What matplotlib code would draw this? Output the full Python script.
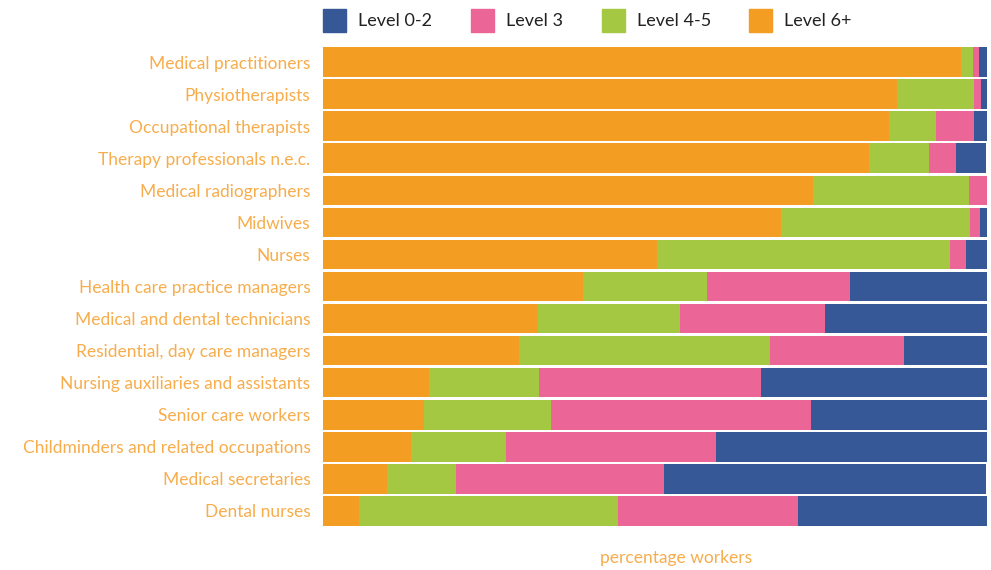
import matplotlib
matplotlib.use("Agg")
from matplotlib import pyplot as plt
from matplotlib.patches import Rectangle
import numpy as np

plt.rcParams["font.family"] = ["Lato", "DejaVu Sans"]

occupations = ["Medical practitioners", "Physiotherapists", "Occupational therapists",
               "Therapy professionals n.e.c.", "Medical radiographers", "Midwives", "Nurses",
               "Health care practice managers", "Medical and dental technicians",
               "Residential, day care managers", "Nursing auxiliaries and assistants",
               "Senior care workers", "Childminders and related occupations",
               "Medical secretaries", "Dental nurses"]

# percent of workers by qualification level
level_6 = [96.1, 86.4, 85.2, 82.2, 73.8, 69.0, 50.3, 39.2, 32.4, 29.5, 16.0, 15.2, 13.3, 9.6, 5.4]
level_4_5 = [1.8, 11.6, 7.1, 9.0, 23.5, 28.5, 44.1, 18.7, 21.4, 37.8, 16.6, 19.1, 14.3, 10.5, 39.0]
level_3 = [0.9, 1.1, 5.7, 4.2, 2.7, 1.4, 2.4, 21.4, 21.8, 20.2, 33.4, 39.2, 31.6, 31.2, 27.1]
level_0_2 = [1.2, 0.9, 2.0, 4.5, 0.0, 1.2, 3.2, 20.8, 24.4, 12.5, 34.0, 26.5, 40.8, 48.6, 28.5]

legend_labels = ["Level 0-2", "Level 3", "Level 4-5", "Level 6+"]

c_orange = "#F49D23"
c_green = "#A5C842"
c_pink = "#EB6697"
c_blue = "#375897"
label_col = "#F7AD4C"

W, H = 991, 570
fig = plt.figure(figsize=(W / 100, H / 100), dpi=100)
ax = fig.add_axes([323/W, 1 - 527/H, 664/W, 481/H])

y = np.arange(len(occupations))
left = np.zeros(len(occupations))
for vals, col in [(level_6, c_orange), (level_4_5, c_green), (level_3, c_pink), (level_0_2, c_blue)]:
    ax.barh(y, vals, left=left, height=0.92, color=col, linewidth=0)
    left += np.array(vals)

ax.set_ylim(len(occupations) - 0.5, -0.5)
ax.set_xlim(0, 100)
ax.set_yticks(y)
ax.set_yticklabels(occupations, color=label_col, fontsize=12.5)
ax.tick_params(axis="y", length=0, pad=9)
ax.set_xticks([])
for s in ax.spines.values():
    s.set_visible(False)

fig.text(676/W, 1 - 558/H, "percentage workers", color=label_col, fontsize=12.5,
         ha="center", va="center")

# legend drawn by hand so the squares line up with the reference
leg_x = [323, 471, 602, 749]
for xpos, col, lab in zip(leg_x, [c_blue, c_pink, c_green, c_orange], legend_labels):
    fig.patches.append(Rectangle((xpos / W, 1 - 32/H), 23/W, 23/H, color=col,
                                 transform=fig.transFigure, figure=fig))
    fig.text((xpos + 35) / W, 1 - 21/H, lab, color="#222222", fontsize=13,
             ha="left", va="center")

fig.savefig("out.png", dpi=100)
